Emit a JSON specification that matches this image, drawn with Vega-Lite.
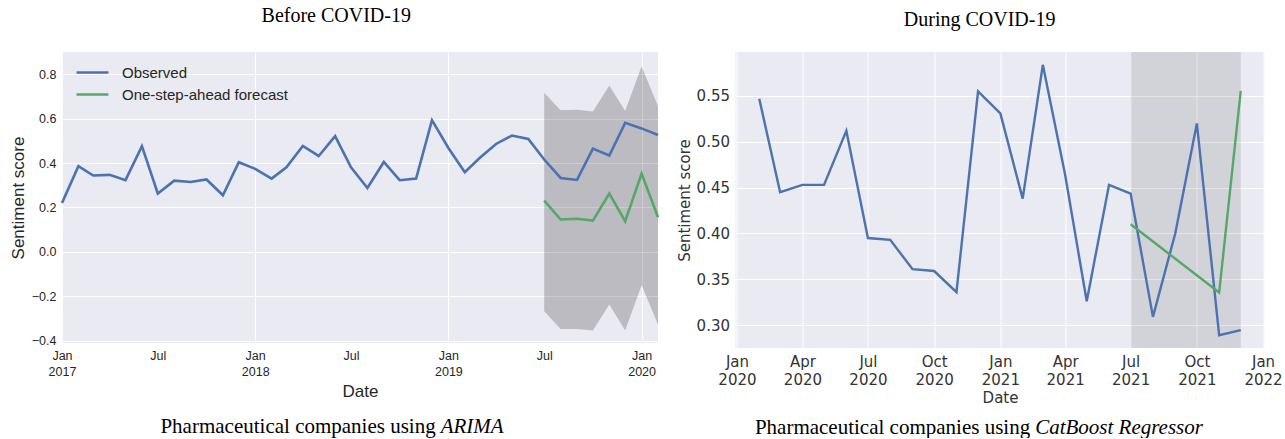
{
  "$schema": "https://vega.github.io/schema/vega-lite/v6.json",
  "padding": {"left": 9, "top": 6, "right": 0, "bottom": 0},
  "background": "white",
  "config": {"view": {"stroke": null}},
  "datasets": {
    "leftLines": [
      {"date": "2017-01-01", "series": "Observed", "value": 0.22},
      {"date": "2017-02-01", "series": "Observed", "value": 0.386},
      {"date": "2017-03-01", "series": "Observed", "value": 0.344},
      {"date": "2017-04-01", "series": "Observed", "value": 0.347},
      {"date": "2017-05-01", "series": "Observed", "value": 0.323},
      {"date": "2017-06-01", "series": "Observed", "value": 0.476},
      {"date": "2017-07-01", "series": "Observed", "value": 0.263},
      {"date": "2017-08-01", "series": "Observed", "value": 0.321},
      {"date": "2017-09-01", "series": "Observed", "value": 0.315},
      {"date": "2017-10-01", "series": "Observed", "value": 0.326},
      {"date": "2017-11-01", "series": "Observed", "value": 0.255},
      {"date": "2017-12-01", "series": "Observed", "value": 0.404},
      {"date": "2018-01-01", "series": "Observed", "value": 0.374},
      {"date": "2018-02-01", "series": "Observed", "value": 0.33},
      {"date": "2018-03-01", "series": "Observed", "value": 0.381},
      {"date": "2018-04-01", "series": "Observed", "value": 0.477},
      {"date": "2018-05-01", "series": "Observed", "value": 0.432},
      {"date": "2018-06-01", "series": "Observed", "value": 0.521},
      {"date": "2018-07-01", "series": "Observed", "value": 0.381},
      {"date": "2018-08-01", "series": "Observed", "value": 0.288},
      {"date": "2018-09-01", "series": "Observed", "value": 0.405},
      {"date": "2018-10-01", "series": "Observed", "value": 0.323},
      {"date": "2018-11-01", "series": "Observed", "value": 0.33},
      {"date": "2018-12-01", "series": "Observed", "value": 0.593},
      {"date": "2019-01-01", "series": "Observed", "value": 0.468},
      {"date": "2019-02-01", "series": "Observed", "value": 0.359},
      {"date": "2019-03-01", "series": "Observed", "value": 0.423},
      {"date": "2019-04-01", "series": "Observed", "value": 0.486},
      {"date": "2019-05-01", "series": "Observed", "value": 0.524},
      {"date": "2019-06-01", "series": "Observed", "value": 0.509},
      {"date": "2019-07-01", "series": "Observed", "value": 0.416},
      {"date": "2019-08-01", "series": "Observed", "value": 0.333},
      {"date": "2019-09-01", "series": "Observed", "value": 0.324},
      {"date": "2019-10-01", "series": "Observed", "value": 0.465},
      {"date": "2019-11-01", "series": "Observed", "value": 0.434},
      {"date": "2019-12-01", "series": "Observed", "value": 0.581},
      {"date": "2020-01-01", "series": "Observed", "value": 0.556},
      {"date": "2020-02-01", "series": "Observed", "value": 0.526},
      {"date": "2019-07-01", "series": "One-step-ahead forecast", "value": 0.231},
      {"date": "2019-08-01", "series": "One-step-ahead forecast", "value": 0.146},
      {"date": "2019-09-01", "series": "One-step-ahead forecast", "value": 0.149},
      {"date": "2019-10-01", "series": "One-step-ahead forecast", "value": 0.141},
      {"date": "2019-11-01", "series": "One-step-ahead forecast", "value": 0.263},
      {"date": "2019-12-01", "series": "One-step-ahead forecast", "value": 0.138},
      {"date": "2020-01-01", "series": "One-step-ahead forecast", "value": 0.353},
      {"date": "2020-02-01", "series": "One-step-ahead forecast", "value": 0.156}
    ],
    "leftBand": [
      {"date": "2019-07-01", "lower": -0.267, "upper": 0.716},
      {"date": "2019-08-01", "lower": -0.347, "upper": 0.638},
      {"date": "2019-09-01", "lower": -0.347, "upper": 0.64},
      {"date": "2019-10-01", "lower": -0.354, "upper": 0.632},
      {"date": "2019-11-01", "lower": -0.237, "upper": 0.749},
      {"date": "2019-12-01", "lower": -0.354, "upper": 0.634},
      {"date": "2020-01-01", "lower": -0.15, "upper": 0.836},
      {"date": "2020-02-01", "lower": -0.327, "upper": 0.656}
    ],
    "rightLines": [
      {"date": "2020-02-01", "series": "Observed", "value": 0.547},
      {"date": "2020-03-01", "series": "Observed", "value": 0.445},
      {"date": "2020-04-01", "series": "Observed", "value": 0.453},
      {"date": "2020-05-01", "series": "Observed", "value": 0.453},
      {"date": "2020-06-01", "series": "Observed", "value": 0.512},
      {"date": "2020-07-01", "series": "Observed", "value": 0.395},
      {"date": "2020-08-01", "series": "Observed", "value": 0.393},
      {"date": "2020-09-01", "series": "Observed", "value": 0.361},
      {"date": "2020-10-01", "series": "Observed", "value": 0.359},
      {"date": "2020-11-01", "series": "Observed", "value": 0.336},
      {"date": "2020-12-01", "series": "Observed", "value": 0.555},
      {"date": "2021-01-01", "series": "Observed", "value": 0.531},
      {"date": "2021-02-01", "series": "Observed", "value": 0.438},
      {"date": "2021-03-01", "series": "Observed", "value": 0.584},
      {"date": "2021-04-01", "series": "Observed", "value": 0.464},
      {"date": "2021-05-01", "series": "Observed", "value": 0.326},
      {"date": "2021-06-01", "series": "Observed", "value": 0.453},
      {"date": "2021-07-01", "series": "Observed", "value": 0.4435},
      {"date": "2021-08-01", "series": "Observed", "value": 0.309},
      {"date": "2021-09-01", "series": "Observed", "value": 0.4},
      {"date": "2021-10-01", "series": "Observed", "value": 0.52},
      {"date": "2021-11-01", "series": "Observed", "value": 0.289},
      {"date": "2021-12-01", "series": "Observed", "value": 0.2945},
      {"date": "2021-07-01", "series": "One-step-ahead forecast", "value": 0.41},
      {"date": "2021-11-01", "series": "One-step-ahead forecast", "value": 0.3355},
      {"date": "2021-12-01", "series": "One-step-ahead forecast", "value": 0.5555}
    ],
    "rightSpan": [
      {"start": "2021-07-01", "end": "2021-12-01"}
    ],
    "leftCaption": [
      {"prefix": "Pharmaceutical companies using", "method": "ARIMA"}
    ],
    "rightCaption": [
      {"prefix": "Pharmaceutical companies using", "method": "CatBoost Regressor"}
    ]
  },
  "spacing": 12.5,
  "hconcat": [
    {
      "spacing": 16,
      "vconcat": [
        {
          "width": 596,
          "height": 291,
          "view": {"fill": "#EAEAF2", "stroke": null},
          "title": {"text": "Before COVID-19", "font": "Liberation Serif", "fontSize": 20, "fontWeight": "normal", "color": "black", "offset": 26, "anchor": "middle", "frame": "bounds"},
          "layer": [
            {
              "data": {"name": "leftBand"},
              "mark": {"type": "area", "fill": "black", "opacity": 0.2, "stroke": null},
              "encoding": {
                "x": {"field": "date", "type": "temporal",
                  "scale": {"type": "utc", "domain": [{"year": 2017, "month": 1, "date": 1, "utc": true}, {"year": 2020, "month": 2, "date": 1, "utc": true}]},
                  "axis": {
                    "values": [
                      {"year": 2017, "month": 1, "date": 1, "utc": true},
                      {"year": 2017, "month": 7, "date": 1, "utc": true},
                      {"year": 2018, "month": 1, "date": 1, "utc": true},
                      {"year": 2018, "month": 7, "date": 1, "utc": true},
                      {"year": 2019, "month": 1, "date": 1, "utc": true},
                      {"year": 2019, "month": 7, "date": 1, "utc": true},
                      {"year": 2020, "month": 1, "date": 1, "utc": true}
                    ],
                    "labelExpr": "utcFormat(datum.value, '%m') == '01' ? [utcFormat(datum.value, '%b'), utcFormat(datum.value, '%Y')] : utcFormat(datum.value, '%b')",
                    "labelFont": "Liberation Sans", "labelFontSize": 12.5, "labelColor": "#262626", "labelLineHeight": 16, "labelPadding": 6,
                    "labelFlush": false, "labelOverlap": false, "ticks": false, "domain": false,
                    "grid": true, "gridColor": "white", "gridWidth": 1,
                    "gridOpacity": {"condition": {"test": "utcFormat(datum.value, '%m') == '01'", "value": 1}, "value": 0},
                    "title": "Date", "titleFont": "Liberation Sans", "titleFontSize": 17, "titleFontWeight": "normal", "titleColor": "#262626", "titlePadding": 6
                  }
                },
                "y": {"field": "lower", "type": "quantitative",
                  "scale": {"domain": [-0.41, 0.9], "nice": false, "zero": false},
                  "axis": {
                    "values": [-0.4, -0.2, 0, 0.2, 0.4, 0.6, 0.8], "format": ".1f",
                    "labelFont": "Liberation Sans", "labelFontSize": 12.5, "labelColor": "#262626", "labelPadding": 6,
                    "ticks": false, "domain": false, "grid": true, "gridColor": "white", "gridWidth": 1,
                    "title": "Sentiment score", "titleFont": "Liberation Sans", "titleFontSize": 17, "titleFontWeight": "normal", "titleColor": "#262626", "titlePadding": 4
                  }
                },
                "y2": {"field": "upper"}
              }
            },
            {
              "data": {"name": "leftLines"},
              "mark": {"type": "line", "strokeWidth": 2.6},
              "encoding": {
                "x": {"field": "date", "type": "temporal"},
                "y": {"field": "value", "type": "quantitative"},
                "color": {"field": "series", "type": "nominal",
                  "scale": {"domain": ["Observed", "One-step-ahead forecast"], "range": ["#4C72B0", "#55A868"]},
                  "legend": {"title": null, "orient": "top-left", "offset": 7, "padding": 0,
                    "symbolType": "M-1.33,0H1.33", "symbolSize": 576, "symbolStrokeWidth": 2.6, "symbolOffset": 10,
                    "labelOffset": 16, "labelFont": "Liberation Sans", "labelFontSize": 15, "labelColor": "#262626",
                    "rowPadding": 0, "labelLimit": 400}
                }
              }
            }
          ]
        },
        {
          "width": 596,
          "height": 20,
          "view": {"stroke": null},
          "data": {"name": "leftCaption"},
          "layer": [
            {
              "mark": {"type": "text", "align": "right", "baseline": "middle", "font": "Liberation Serif", "fontSize": 21, "color": "black"},
              "encoding": {
                "x": {"datum": 0.627, "type": "quantitative", "scale": {"domain": [0, 1]}, "axis": null},
                "text": {"field": "prefix"}
              }
            },
            {
              "mark": {"type": "text", "align": "left", "baseline": "middle", "dx": 5, "font": "Liberation Serif", "fontSize": 21, "fontStyle": "italic", "color": "black"},
              "encoding": {
                "x": {"datum": 0.627, "type": "quantitative", "scale": {"domain": [0, 1]}, "axis": null},
                "text": {"field": "method"}
              }
            }
          ]
        }
      ]
    },
    {
      "spacing": 12,
      "vconcat": [
        {
          "width": 529,
          "height": 296,
          "view": {"fill": "#EAEAF2", "stroke": null},
          "title": {"text": "During COVID-19", "font": "Liberation Serif", "fontSize": 20, "fontWeight": "normal", "color": "black", "offset": 22, "anchor": "middle", "frame": "bounds"},
          "layer": [
            {
              "data": {"name": "rightSpan"},
              "mark": {"type": "rect", "fill": "black", "opacity": 0.1},
              "encoding": {
                "x": {"field": "start", "type": "temporal",
                  "scale": {"type": "utc", "domain": [{"year": 2019, "month": 12, "date": 30, "utc": true}, {"year": 2022, "month": 1, "date": 3, "utc": true}]},
                  "axis": {
                    "values": [
                      {"year": 2020, "month": 1, "date": 1, "utc": true},
                      {"year": 2020, "month": 4, "date": 1, "utc": true},
                      {"year": 2020, "month": 7, "date": 1, "utc": true},
                      {"year": 2020, "month": 10, "date": 1, "utc": true},
                      {"year": 2021, "month": 1, "date": 1, "utc": true},
                      {"year": 2021, "month": 4, "date": 1, "utc": true},
                      {"year": 2021, "month": 7, "date": 1, "utc": true},
                      {"year": 2021, "month": 10, "date": 1, "utc": true},
                      {"year": 2022, "month": 1, "date": 1, "utc": true}
                    ],
                    "labelExpr": "[utcFormat(datum.value, '%b'), utcFormat(datum.value, '%Y')]",
                    "labelFont": "DejaVu Sans", "labelFontSize": 15, "labelColor": "#333333", "labelLineHeight": 18, "labelPadding": 6,
                    "labelFlush": false, "labelOverlap": false, "ticks": false, "domain": false,
                    "grid": true, "gridColor": "white", "gridWidth": 1,
                    "title": "Date", "titleFont": "DejaVu Sans", "titleFontSize": 15, "titleFontWeight": "normal", "titleColor": "#333333", "titlePadding": 3
                  }
                },
                "x2": {"field": "end"}
              }
            },
            {
              "data": {"name": "rightLines"},
              "mark": {"type": "line", "strokeWidth": 2.4},
              "encoding": {
                "x": {"field": "date", "type": "temporal"},
                "y": {"field": "value", "type": "quantitative",
                  "scale": {"domain": [0.275, 0.598], "nice": false, "zero": false},
                  "axis": {
                    "values": [0.3, 0.35, 0.4, 0.45, 0.5, 0.55], "format": ".2f",
                    "labelFont": "DejaVu Sans", "labelFontSize": 15, "labelColor": "#333333", "labelPadding": 6,
                    "ticks": false, "domain": false, "grid": true, "gridColor": "white", "gridWidth": 1,
                    "title": "Sentiment score", "titleFont": "DejaVu Sans", "titleFontSize": 15, "titleFontWeight": "normal", "titleColor": "#333333", "titlePadding": 4
                  }
                },
                "color": {"field": "series", "type": "nominal",
                  "scale": {"domain": ["Observed", "One-step-ahead forecast"], "range": ["#4C72B0", "#4EAE55"]},
                  "legend": {"title": null, "orient": "top-left", "offset": 8, "padding": 0,
                    "symbolType": "M-1.58,0H1.58", "symbolSize": 361, "symbolStrokeWidth": 2.4, "symbolOffset": 7,
                    "labelOffset": 15, "labelFont": "DejaVu Sans", "labelFontSize": 13.5, "labelColor": "#333333",
                    "rowPadding": 0, "labelLimit": 400}
                }
              }
            }
          ]
        },
        {
          "width": 529,
          "height": 20,
          "view": {"stroke": null},
          "data": {"name": "rightCaption"},
          "layer": [
            {
              "mark": {"type": "text", "align": "right", "baseline": "middle", "font": "Liberation Serif", "fontSize": 21, "color": "black"},
              "encoding": {
                "x": {"datum": 0.557, "type": "quantitative", "scale": {"domain": [0, 1]}, "axis": null},
                "text": {"field": "prefix"}
              }
            },
            {
              "mark": {"type": "text", "align": "left", "baseline": "middle", "dx": 5, "font": "Liberation Serif", "fontSize": 21, "fontStyle": "italic", "color": "black"},
              "encoding": {
                "x": {"datum": 0.557, "type": "quantitative", "scale": {"domain": [0, 1]}, "axis": null},
                "text": {"field": "method"}
              }
            }
          ]
        }
      ]
    }
  ]
}
